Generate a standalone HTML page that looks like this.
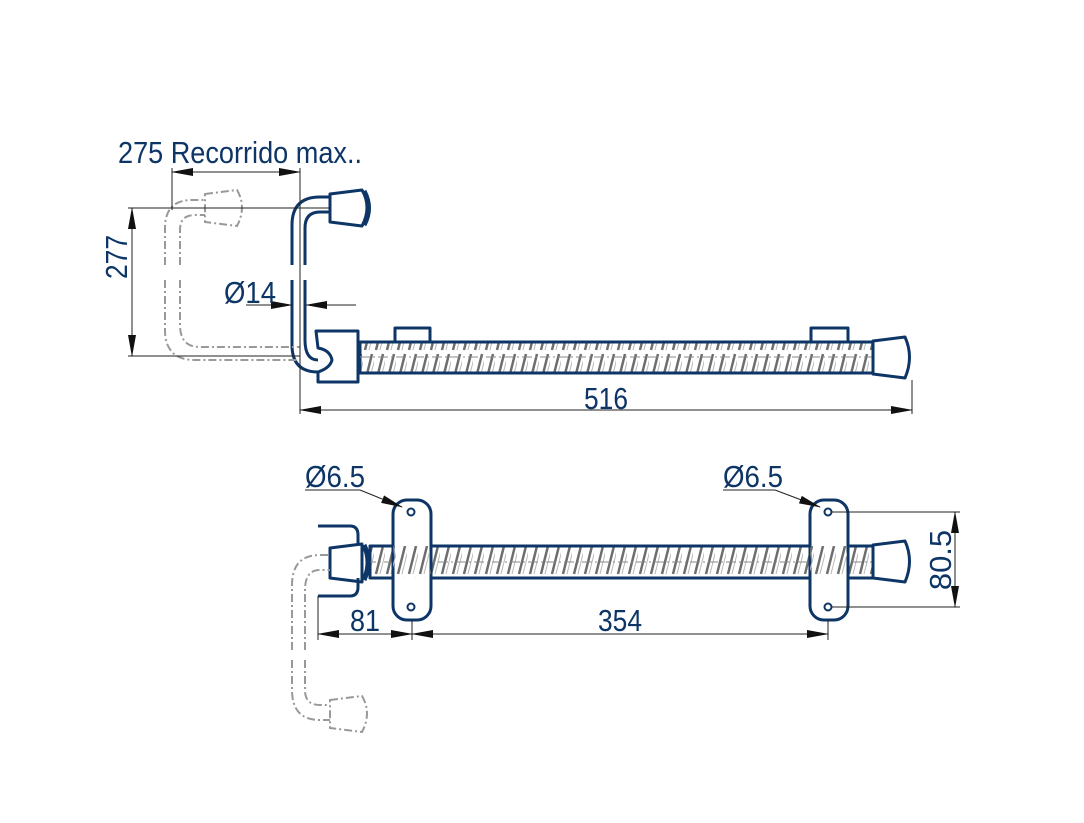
<!DOCTYPE html>
<html><head><meta charset="utf-8"><style>
body{margin:0;background:#fff}
svg{display:block}
text{font-family:"Liberation Sans",sans-serif;fill:#0d3566}
</style></head><body>
<svg width="1084" height="823" viewBox="0 0 1084 823" xmlns="http://www.w3.org/2000/svg">
<defs>
<pattern id="sp" width="11" height="32" patternUnits="userSpaceOnUse">
<line x1="2" y1="30" x2="9" y2="2" stroke="#6d6d6d" stroke-width="2.5"/>
<line x1="6" y1="30" x2="13" y2="2" stroke="#b8b8b8" stroke-width="1"/>
</pattern>
<marker id="ar" markerWidth="22" markerHeight="8" refX="21" refY="4" orient="auto" markerUnits="userSpaceOnUse"><path d="M0,0 L22,4 L0,8z" fill="#111"/></marker>
</defs>
<g fill="none" stroke="#0d3566" stroke-width="3" stroke-linejoin="round">
<rect x="360" y="342" width="513" height="31" fill="url(#sp)"/>
<line x1="360" y1="357" x2="873" y2="357" stroke="#888" stroke-width="1" stroke-dasharray="10 3 2 3"/>
<path d="M873,341 L905,337 Q914,357 905,378 L873,374z" fill="#fff"/>
<path d="M395,342 V328 H430 V342"/><path d="M811,342 V328 H848 V342"/>
<path d="M316,331 H358 V382 H318 V372 Q330,368 332,360 Q330,350 318,348z" fill="#fff"/>
<path d="M292,265 V225 Q292,197 320,197 H330 M305,265 V228 Q305,212 320,212 H330"/>
<path d="M292,280 V345 Q292,372 318,372 M305,280 V340 Q305,360 318,360"/>
<path d="M330,194 L362,190 Q372,207 362,226 L330,222z" fill="#fff"/>
<path d="M364,191 Q373,208 364,225" stroke-width="5"/>
<rect x="370" y="546" width="503" height="32" fill="url(#sp)"/>
<line x1="330" y1="562" x2="873" y2="562" stroke="#888" stroke-width="1" stroke-dasharray="10 3 2 3"/>
<path d="M873,545 L905,541 Q914,561 905,582 L873,578z" fill="#fff"/>
<path d="M330,548 L362,544 L362,582 L330,578z" fill="#fff"/>
<path d="M364,545 Q372,562 364,580" stroke-width="5"/>
<path d="M318,526 H350 Q358,526 358,535 V545 M318,596 H350 Q358,596 358,587 V578"/>
<rect x="393" y="500" width="38" height="120" rx="14" fill="#fff"/>
<rect x="810" y="500" width="38" height="120" rx="14" fill="#fff"/>
<rect x="393" y="546" width="38" height="32" fill="url(#sp)" stroke="none"/>
<rect x="810" y="546" width="38" height="32" fill="url(#sp)" stroke="none"/>
<g stroke-width="2"><circle cx="411" cy="512" r="3.5"/><circle cx="411" cy="607" r="3.5"/><circle cx="828" cy="512" r="3.5"/><circle cx="828" cy="607" r="3.5"/></g>
</g>
<g fill="none" stroke="#999" stroke-width="2" stroke-dasharray="8 3 2 3">
<path d="M165,265 V228 Q165,200 192,200 H205 M180,265 V230 Q180,215 195,215 H205"/>
<path d="M165,280 V330 Q165,360 195,360 H300 M180,280 V325 Q180,347 200,347 H300"/>
<path d="M205,194 L237,190 Q247,207 237,226 L205,222z"/>
<path d="M292,660 V690 Q292,720 320,720 H330 M305,660 V690 Q305,705 320,705 H330"/>
<path d="M292,650 V585 Q292,555 320,555 H330 M305,650 V590 Q305,570 320,570 H330"/>
<path d="M330,700 L362,696 Q372,713 362,732 L330,728z"/>
</g>
<g stroke="#222" stroke-width="1" fill="none">
<line x1="172" y1="168" x2="172" y2="210"/><line x1="300" y1="168" x2="300" y2="414"/>
<line x1="236" y1="172" x2="172" y2="172" marker-end="url(#ar)"/><line x1="236" y1="172" x2="300" y2="172" marker-end="url(#ar)"/>
<line x1="128" y1="208" x2="330" y2="208"/><line x1="128" y1="356" x2="300" y2="356"/>
<line x1="132" y1="280" x2="132" y2="208" marker-end="url(#ar)"/><line x1="132" y1="280" x2="132" y2="356" marker-end="url(#ar)"/>
<line x1="246" y1="305" x2="292" y2="305" marker-end="url(#ar)"/><line x1="356" y1="305" x2="306" y2="305" marker-end="url(#ar)"/>
<line x1="912" y1="380" x2="912" y2="414"/>
<line x1="600" y1="410" x2="300" y2="410" marker-end="url(#ar)"/><line x1="600" y1="410" x2="912" y2="410" marker-end="url(#ar)"/>
<line x1="305" y1="490" x2="360" y2="490"/><line x1="360" y1="490" x2="402" y2="507" marker-end="url(#ar)"/>
<line x1="723" y1="490" x2="775" y2="490"/><line x1="775" y1="490" x2="820" y2="507" marker-end="url(#ar)"/>
<line x1="318" y1="596" x2="318" y2="640"/><line x1="412" y1="620" x2="412" y2="640"/><line x1="828" y1="620" x2="828" y2="640"/>
<line x1="365" y1="634" x2="318" y2="634" marker-end="url(#ar)"/><line x1="365" y1="634" x2="412" y2="634" marker-end="url(#ar)"/>
<line x1="620" y1="634" x2="412" y2="634" marker-end="url(#ar)"/><line x1="620" y1="634" x2="828" y2="634" marker-end="url(#ar)"/>
<line x1="832" y1="512" x2="960" y2="512"/><line x1="832" y1="607" x2="960" y2="607"/>
<line x1="955" y1="560" x2="955" y2="512" marker-end="url(#ar)"/><line x1="955" y1="560" x2="955" y2="607" marker-end="url(#ar)"/>
</g>
<text x="118" y="163" font-size="31" textLength="244" lengthAdjust="spacingAndGlyphs">275 Recorrido max..</text>
<text transform="translate(127,257) rotate(-90)" font-size="31" text-anchor="middle" textLength="44" lengthAdjust="spacingAndGlyphs">277</text>
<text x="224" y="303" font-size="31" textLength="52" lengthAdjust="spacingAndGlyphs">Ø14</text>
<text x="584" y="409" font-size="31" textLength="44" lengthAdjust="spacingAndGlyphs">516</text>
<text x="305" y="487" font-size="31" textLength="60" lengthAdjust="spacingAndGlyphs">Ø6.5</text>
<text x="723" y="487" font-size="31" textLength="60" lengthAdjust="spacingAndGlyphs">Ø6.5</text>
<text x="350" y="631" font-size="31" textLength="30" lengthAdjust="spacingAndGlyphs">81</text>
<text x="598" y="631" font-size="31" textLength="44" lengthAdjust="spacingAndGlyphs">354</text>
<text transform="translate(951,560) rotate(-90)" font-size="31" text-anchor="middle">80.5</text>
</svg>
</body></html>
